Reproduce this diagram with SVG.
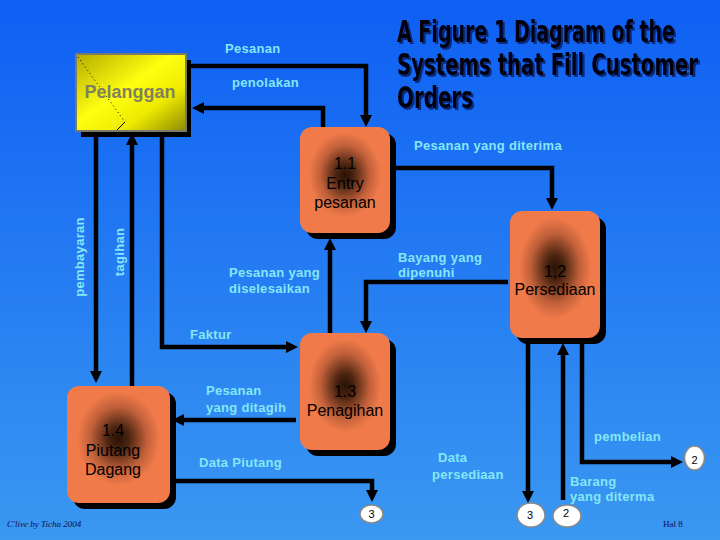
<svg xmlns="http://www.w3.org/2000/svg" width="720" height="540" viewBox="0 0 720 540">
<defs>
<linearGradient id="bg" x1="0" y1="0" x2="0" y2="1">
<stop offset="0" stop-color="#0e5ff3"/>
<stop offset="1" stop-color="#3a98f1"/>
</linearGradient>
<linearGradient id="yel" x1="0" y1="0" x2="1" y2="1">
<stop offset="0" stop-color="#b4ac00"/>
<stop offset="0.45" stop-color="#ffff10"/>
<stop offset="0.7" stop-color="#eeea00"/>
<stop offset="1" stop-color="#8c8a00"/>
</linearGradient>
<radialGradient id="proc" cx="0.5" cy="0.45" r="0.5">
<stop offset="0" stop-color="#2a1206"/>
<stop offset="0.2" stop-color="#4a2410"/>
<stop offset="0.55" stop-color="#c0603a"/>
<stop offset="0.8" stop-color="#f07a4a"/>
<stop offset="1" stop-color="#f07a4a"/>
</radialGradient>
<marker id="arr" markerUnits="userSpaceOnUse" viewBox="0 0 12 12" markerWidth="12" markerHeight="12" refX="4" refY="6" orient="auto">
<path d="M0,0 L12,6 L0,12 z" fill="#000"/>
</marker>
<filter id="tshadow" x="-5%" y="-20%" width="110%" height="140%">
<feOffset in="SourceAlpha" dx="2" dy="1.5" result="o"/>
<feFlood flood-color="#0a2a7a"/>
<feComposite in2="o" operator="in" result="s"/>
<feMerge><feMergeNode in="s"/><feMergeNode in="SourceGraphic"/></feMerge>
</filter>
</defs>
<style>
.lbl{font-family:"Liberation Sans",Arial,sans-serif;font-size:13px;font-weight:bold;fill:#86e6f6;letter-spacing:0.3px}
.ptxt{font-family:"Liberation Sans",Arial,sans-serif;font-size:16px;fill:#000;text-anchor:middle}
.shadow{fill:#000}
.proc{fill:url(#proc)}
.flow{fill:none;stroke:#000;stroke-width:4.5;marker-end:url(#arr)}
.conn{fill:#fff;stroke:#8a8a8a;stroke-width:1.5}
.ctxt{font-family:"Liberation Sans",Arial,sans-serif;font-size:11px;fill:#000;text-anchor:middle}
.title{font-family:"DejaVu Sans Condensed","Liberation Sans Narrow","Liberation Sans",sans-serif;font-size:22px;font-weight:bold;fill:#000010}
</style>
<rect x="0" y="0" width="720" height="540" fill="url(#bg)"/>

<g id="title" class="title" filter="url(#tshadow)" transform="scale(1,1.36)">
<text x="397" y="30.9" textLength="278" lengthAdjust="spacingAndGlyphs">A Figure 1 Diagram of the</text>
<text x="397" y="55.1" textLength="301" lengthAdjust="spacingAndGlyphs">Systems that Fill Customer</text>
<text x="397" y="79.4" textLength="76" lengthAdjust="spacingAndGlyphs">Orders</text>
</g>

<g id="connectors">
<path class="flow" d="M186,66 H366 V119"/>
<path class="flow" d="M323,127 V108 H200"/>
<path class="flow" d="M390,168 H552 V202"/>
<path class="flow" d="M508,282 H366 V325"/>
<path class="flow" d="M330,333 V246"/>
<path class="flow" d="M162,137 V347 H290"/>
<path class="flow" d="M96,137 V375"/>
<path class="flow" d="M132,386 V141"/>
<path class="flow" d="M296,420 H180"/>
<path class="flow" d="M172,481 H372 V494"/>
<path class="flow" d="M528,340 V495"/>
<path class="flow" d="M563,500 V351"/>
<path class="flow" d="M582,340 V462 H675"/>
</g>

<g id="labels">
<text class="lbl" x="225" y="53">Pesanan</text>
<text class="lbl" x="232" y="87">penolakan</text>
<text class="lbl" x="414" y="150">Pesanan yang diterima</text>
<text class="lbl" x="398" y="262">Bayang yang</text>
<text class="lbl" x="398" y="277">dipenuhi</text>
<text class="lbl" x="229" y="277">Pesanan yang</text>
<text class="lbl" x="229" y="293">diselesaikan</text>
<text class="lbl" x="190" y="339">Faktur</text>
<text class="lbl" x="206" y="395">Pesanan</text>
<text class="lbl" x="206" y="412">yang ditagih</text>
<text class="lbl" x="199" y="467">Data Piutang</text>
<text class="lbl" x="438" y="462">Data</text>
<text class="lbl" x="432" y="479">persediaan</text>
<text class="lbl" x="594" y="441">pembelian</text>
<text class="lbl" x="570" y="486">Barang</text>
<text class="lbl" x="570" y="501">yang diterma</text>
<text class="lbl" transform="translate(84,257) rotate(-90)" text-anchor="middle">pembayaran</text>
<text class="lbl" transform="translate(124,252) rotate(-90)" text-anchor="middle">tagihan</text>
</g>

<g id="pelanggan">
<rect class="shadow" x="81" y="60" width="110" height="77"/>
<rect x="76" y="54" width="110" height="77" fill="url(#yel)" stroke="#7a7a6a" stroke-width="2"/>
<path d="M78,57 L125,122" stroke="#000" stroke-width="1" stroke-dasharray="1,3" fill="none"/>
<path d="M125,122 L117,130" stroke="#000" stroke-width="1" fill="none"/>
<text x="130" y="98" text-anchor="middle" font-family="Liberation Sans, Arial, sans-serif" font-size="18" font-weight="bold" fill="#80805c">Pelanggan</text>
</g>

<g id="p11">
<rect class="shadow" x="306" y="133" width="90" height="106" rx="12"/>
<rect class="proc" x="300" y="127" width="90" height="106" rx="12"/>
<text class="ptxt" x="345" y="169">1.1</text>
<text class="ptxt" x="345" y="189">Entry</text>
<text class="ptxt" x="345" y="208">pesanan</text>
</g>

<g id="p12">
<rect class="shadow" x="516" y="217" width="90" height="127" rx="12"/>
<rect class="proc" x="510" y="211" width="90" height="127" rx="12"/>
<text class="ptxt" x="555" y="277">1,2</text>
<text class="ptxt" x="555" y="295">Persediaan</text>
</g>

<g id="p13">
<rect class="shadow" x="306" y="339" width="90" height="117" rx="12"/>
<rect class="proc" x="300" y="333" width="90" height="117" rx="12"/>
<text class="ptxt" x="345" y="397">1.3</text>
<text class="ptxt" x="345" y="416">Penagihan</text>
</g>

<g id="p14">
<rect class="shadow" x="73" y="392" width="103" height="117" rx="12"/>
<rect class="proc" x="67" y="386" width="103" height="117" rx="12"/>
<text class="ptxt" x="113" y="436">1.4</text>
<text class="ptxt" x="113" y="456">Piutang</text>
<text class="ptxt" x="113" y="475">Dagang</text>
</g>

<g id="c3a">
<ellipse class="conn" cx="371.5" cy="514" rx="11.5" ry="9"/>
<text class="ctxt" x="371.5" y="518">3</text>
</g>
<g id="c3b">
<ellipse class="conn" cx="531" cy="515" rx="14" ry="12"/>
<text class="ctxt" x="530" y="519">3</text>
</g>
<g id="c2a">
<ellipse class="conn" cx="567" cy="516" rx="14" ry="11"/>
<text class="ctxt" x="566" y="517">2</text>
</g>
<g id="c2b">
<ellipse class="conn" cx="694.5" cy="458" rx="10" ry="12"/>
<text class="ctxt" x="694.5" y="464">2</text>
</g>

<text x="7" y="527" font-family="Liberation Serif, serif" font-style="italic" font-size="9" fill="#101050">C'live by Ticha 2004</text>
<text x="663" y="527" font-family="Liberation Serif, serif" font-size="9" fill="#101050">Hal 8</text>
</svg>
